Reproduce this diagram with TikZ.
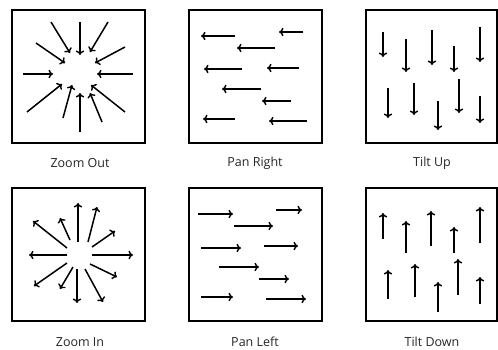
\documentclass[tikz,border=0pt]{standalone}
\usepackage{fontspec}
\setmainfont{Open Sans}
\usetikzlibrary{arrows.meta}
\tikzset{
  panel/.style={draw=black, line width=1.8pt},
  mv/.style={line width=1.5pt, -{To[length=4.5pt,width=8.5pt,line width=1.4pt]}},
  captxt/.style={font=\fontsize{12.5}{14}\selectfont, text=black!85, inner sep=0pt}
}
\begin{document}
\begin{tikzpicture}[x=1pt,y=-1pt]
\useasboundingbox (0,0) rectangle (498,349);
% panels
\draw[panel] (12,10) rectangle (145,143);
\draw[panel] (189,10) rectangle (322,143);
\draw[panel] (366,10) rectangle (497,143);
\draw[panel] (12,188) rectangle (145,321);
\draw[panel] (189,188) rectangle (322,321);
\draw[panel] (366,188) rectangle (497,321);
% captions
\node[captxt] (c1) at (80,163) {Zoom Out};
\node[captxt] (c2) at (255,163) {Pan Right};
\node[captxt] (c3) at (432,163) {Tilt Up};
\node[captxt] (c4) at (80,342) {Zoom In};
\node[captxt] (c5) at (255,342) {Pan Left};
\node[captxt] (c6) at (432,342) {Tilt Down};
% Zoom Out
\foreach \a/\b/\c/\d in {51/22/70/53, 80/22/80/55, 108/22/90/52, 36/43/65/63,
  125/47/95/63, 23/74/53/74, 133/74/97/74, 27/112/62/84, 63/118/72/85,
  80/132/80/93, 102/122/90/93, 125/112/91/85}
  \draw[mv] (\a,\b) -- (\c,\d);
% Zoom In
\foreach \a/\b/\c/\d in {78/242/78/203, 88/242/97/207, 92/247/115/231,
  70/240/60/218, 67/248/33/221, 67/255/29/255, 92/255/133/255,
  90/264/117/277, 67/263/34/286, 73/267/60/289, 77/269/77/303, 85/269/103/302}
  \draw[mv] (\a,\b) -- (\c,\d);
% Pan Right
\foreach \a/\b/\y in {235/201/36, 303/279/32, 275/237/48, 242/204/69, 299/267/68,
  261/222/89, 291/262/101, 235/203/119, 307/269/121}
  \draw[mv] (\a,\y) -- (\b,\y);
% Pan Left
\foreach \a/\b/\y in {198/233/214, 276/302/210, 234/273/226, 201/241/248, 264/298/246,
  219/259/267, 259/289/279, 201/233/297, 266/306/299}
  \draw[mv] (\a,\y) -- (\b,\y);
% Tilt Up
\foreach \x/\a/\b in {383/32/57, 406/39/72, 432/30/65, 454/46/72, 480/27/62,
  388/88/118, 414/83/115, 438/101/130, 459/79/113, 480/96/123}
  \draw[mv] (\x,\a) -- (\x,\b);
% Tilt Down
\foreach \x/\a/\b in {383/239/213, 406/253/221, 431/246/211, 454/253/227, 480/243/207,
  388/299/270, 415/297/264, 438/312/282, 458/295/259, 480/304/277}
  \draw[mv] (\x,\a) -- (\x,\b);
\end{tikzpicture}
\end{document}
